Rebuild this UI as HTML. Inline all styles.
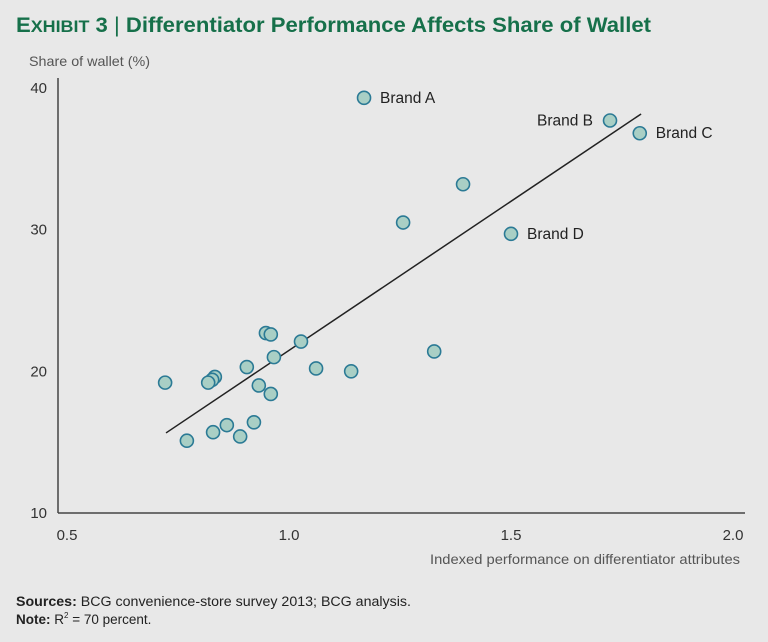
<!DOCTYPE html>
<html><head><meta charset="utf-8"><style>
body{margin:0;background:#e8e8e8;width:768px;height:637px;overflow:hidden;font-family:"Liberation Sans",sans-serif}
</style></head><body>
<svg width="768" height="637" viewBox="0 0 768 637" xmlns="http://www.w3.org/2000/svg">
<rect width="768" height="637" fill="#e8e8e8"/>
<text x="16" y="32" fill="#16704a" font-size="21" font-weight="bold" textLength="635" lengthAdjust="spacingAndGlyphs"><tspan font-size="21">E</tspan><tspan font-size="17">XHIBIT</tspan> 3 <tspan font-weight="normal">|</tspan> Differentiator Performance Affects Share of Wallet</text>
<text x="29" y="66" fill="#555" font-size="14" textLength="121" lengthAdjust="spacingAndGlyphs">Share of wallet (%)</text>
<g id="axes"></g>
<g id="marks"></g>
<text x="740" y="564" fill="#555" font-size="14" text-anchor="end" textLength="310" lengthAdjust="spacingAndGlyphs">Indexed performance on differentiator attributes</text>
<text x="16" y="606" fill="#222" font-size="13.5" textLength="395" lengthAdjust="spacingAndGlyphs"><tspan font-weight="bold">Sources:</tspan> BCG convenience-store survey 2013; BCG analysis.</text>
<text x="16" y="624" fill="#222" font-size="13.5"><tspan font-weight="bold">Note:</tspan> R<tspan font-size="8" dy="-6">2</tspan><tspan dy="6"> = 70 percent.</tspan></text>
</svg>
<script>
const xVals=[1.169,1.723,1.79,1.5,1.392,1.257,1.327,1.14,1.061,1.027,0.948,0.959,0.966,0.905,0.932,0.959,0.721,0.833,0.827,0.818,0.921,0.86,0.829,0.89,0.77];
const yVals=[39.3,37.7,36.8,29.7,33.2,30.5,21.4,20.0,20.2,22.1,22.7,22.6,21.0,20.3,19.0,18.4,19.2,19.6,19.4,19.2,16.4,16.2,15.7,15.4,15.1];
const labels=["Brand A","Brand B","Brand C","Brand D","","","","","","","","","","","","","","","","","","","","",""];
const labelSide=["right","left","right","right"];
const xTicks=[0.5,1.0,1.5,2.0];
const yTicks=[10,20,30,40];
const trendX=[0.723,1.793];
const trendY=[15.65,38.16];
const NS="http://www.w3.org/2000/svg";
const sx=v=>67+(v-0.5)*444;
const sy=v=>513-(v-10)*14.17;
function mk(tag,attrs,parent){const e=document.createElementNS(NS,tag);for(const k in attrs)e.setAttribute(k,attrs[k]);parent.appendChild(e);return e;}
const axes=document.getElementById('axes'),marks=document.getElementById('marks');
let a=mk('line',{x1:58,y1:78,x2:58,y2:513,stroke:'#444','stroke-width':1.5},axes);


a=mk('line',{x1:58,y1:513,x2:745,y2:513,stroke:'#444','stroke-width':1.5},axes);


xTicks.forEach(t=>{const e=mk('text',{x:sx(t),y:540,'text-anchor':'middle','font-size':15,fill:'#333'},axes);e.textContent=t.toFixed(1);

});
yTicks.forEach(t=>{const e=mk('text',{x:47,y:sy(t)+5,'text-anchor':'end','font-size':15,fill:'#333'},axes);e.textContent=t;

});
const tl=mk('line',{x1:sx(trendX[0]),y1:sy(trendY[0]),x2:sx(trendX[1]),y2:sy(trendY[1]),stroke:'#222','stroke-width':1.5},marks);


xVals.forEach((x,i)=>{const c=mk('circle',{cx:sx(x),cy:sy(yVals[i]),r:6.5,fill:'#a9cfc5',stroke:'#2b7a95','stroke-width':1.6},marks);


if(labels[i]){const left=labelSide[i]==='left';const t=mk('text',{x:sx(x)+(left?-17:16),y:sy(yVals[i])+5,'text-anchor':left?'end':'start','font-size':15.5,fill:'#222'},marks);t.textContent=labels[i];

}});
</script>
</body></html>
